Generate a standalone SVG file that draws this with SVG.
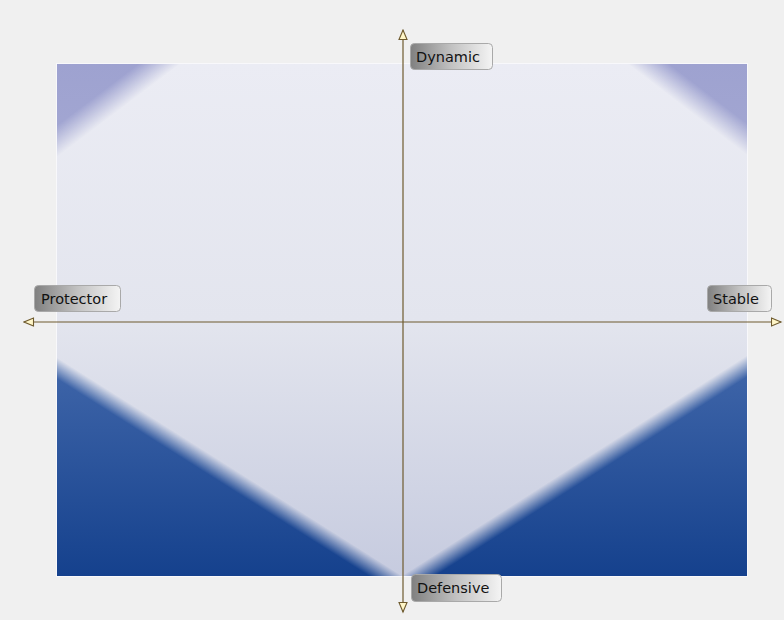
<svg xmlns="http://www.w3.org/2000/svg" width="784" height="620" viewBox="0 0 784 620">
  <defs>
    <style>
      .lbl rect { fill: url(#lblGrad); stroke: #a9a9a9; stroke-width: 1; }
      .lbl text { font-family: "DejaVu Sans", "Liberation Sans", sans-serif; font-size: 14.5px; fill: #111111; }
      .axis { stroke: #6e5a2e; stroke-width: 1.2; fill: none; marker-start: url(#arr); marker-end: url(#arr); }
    </style>
    <marker id="arr" markerUnits="userSpaceOnUse" markerWidth="12" markerHeight="11" refX="10.5" refY="5" orient="auto-start-reverse">
      <path d="M1,1 L10.5,5 L1,9 Z" fill="#fff6c8" stroke="#6e5a2e" stroke-width="1.1"/>
    </marker>
    <linearGradient id="lblGrad" x1="0" y1="0" x2="1" y2="0">
      <stop offset="0" stop-color="#808080"/>
      <stop offset="0.5" stop-color="#c2c2c2"/>
      <stop offset="1" stop-color="#f4f4f4"/>
    </linearGradient>
    <linearGradient id="bgGrad" x1="0" y1="64" x2="0" y2="576" gradientUnits="userSpaceOnUse">
      <stop offset="0" stop-color="#ebecf4"/>
      <stop offset="0.5" stop-color="#e3e5ee"/>
      <stop offset="1" stop-color="#c6cbdf"/>
    </linearGradient>
    <linearGradient id="blueGrad" x1="0" y1="355" x2="0" y2="576" gradientUnits="userSpaceOnUse">
      <stop offset="0" stop-color="#4167aa"/>
      <stop offset="1" stop-color="#15418d"/>
    </linearGradient>
    <linearGradient id="topGrad" x1="0" y1="64" x2="0" y2="157" gradientUnits="userSpaceOnUse">
      <stop offset="0" stop-color="#9ea2d0"/>
      <stop offset="1" stop-color="#a3a7d2"/>
    </linearGradient>
    <linearGradient id="fBL" x1="229.5" y1="466.5" x2="219.9" y2="481.7" gradientUnits="userSpaceOnUse">
      <stop offset="0" stop-color="#fff" stop-opacity="0"/>
      <stop offset="1" stop-color="#fff" stop-opacity="1"/>
    </linearGradient>
    <linearGradient id="fBR" x1="574.5" y1="465.5" x2="584.2" y2="480.7" gradientUnits="userSpaceOnUse">
      <stop offset="0" stop-color="#fff" stop-opacity="0"/>
      <stop offset="1" stop-color="#fff" stop-opacity="1"/>
    </linearGradient>
    <linearGradient id="fTL" x1="118.5" y1="110.5" x2="103.4" y2="90.5" gradientUnits="userSpaceOnUse">
      <stop offset="0" stop-color="#fff" stop-opacity="0"/>
      <stop offset="1" stop-color="#fff" stop-opacity="1"/>
    </linearGradient>
    <linearGradient id="fTR" x1="687.5" y1="109.5" x2="702.7" y2="89.6" gradientUnits="userSpaceOnUse">
      <stop offset="0" stop-color="#fff" stop-opacity="0"/>
      <stop offset="1" stop-color="#fff" stop-opacity="1"/>
    </linearGradient>
    <mask id="mBL" maskUnits="userSpaceOnUse" x="0" y="0" width="784" height="620"><rect width="784" height="620" fill="url(#fBL)"/></mask>
    <mask id="mBR" maskUnits="userSpaceOnUse" x="0" y="0" width="784" height="620"><rect width="784" height="620" fill="url(#fBR)"/></mask>
    <mask id="mTL" maskUnits="userSpaceOnUse" x="0" y="0" width="784" height="620"><rect width="784" height="620" fill="url(#fTL)"/></mask>
    <mask id="mTR" maskUnits="userSpaceOnUse" x="0" y="0" width="784" height="620"><rect width="784" height="620" fill="url(#fTR)"/></mask>
  </defs>

  <rect width="784" height="620" fill="#f0f0f0"/>

  <g id="plot">
    <rect x="56.5" y="63.5" width="691" height="513" fill="none" stroke="#f8f8fb" stroke-width="1"/>
    <rect x="57" y="64" width="690" height="512" fill="url(#bgGrad)"/>
    <polygon points="57,64 180,64 57,157" fill="url(#topGrad)" mask="url(#mTL)"/>
    <polygon points="628,64 747,64 747,155" fill="url(#topGrad)" mask="url(#mTR)"/>
    <polygon points="57,357 402,576 57,576" fill="url(#blueGrad)" mask="url(#mBL)"/>
    <polygon points="402,576 747,355 747,576" fill="url(#blueGrad)" mask="url(#mBR)"/>
  </g>

  <g id="connectors">
    <line class="axis" x1="403" y1="612" x2="403" y2="30"/>
    <line class="axis" x1="24" y1="322" x2="781" y2="322"/>
  </g>

  <g id="node-dynamic" class="lbl">
    <rect x="410.5" y="43.5" width="82" height="26" rx="4"/>
    <text x="416" y="62">Dynamic</text>
  </g>
  <g id="node-protector" class="lbl">
    <rect x="34.5" y="285.5" width="86" height="26" rx="4"/>
    <text x="41" y="304">Protector</text>
  </g>
  <g id="node-stable" class="lbl">
    <rect x="707.5" y="285.5" width="64" height="26" rx="4"/>
    <text x="713" y="304">Stable</text>
  </g>
  <g id="node-defensive" class="lbl">
    <rect x="411.5" y="574.5" width="90" height="27" rx="4"/>
    <text x="417" y="593">Defensive</text>
  </g>
</svg>
